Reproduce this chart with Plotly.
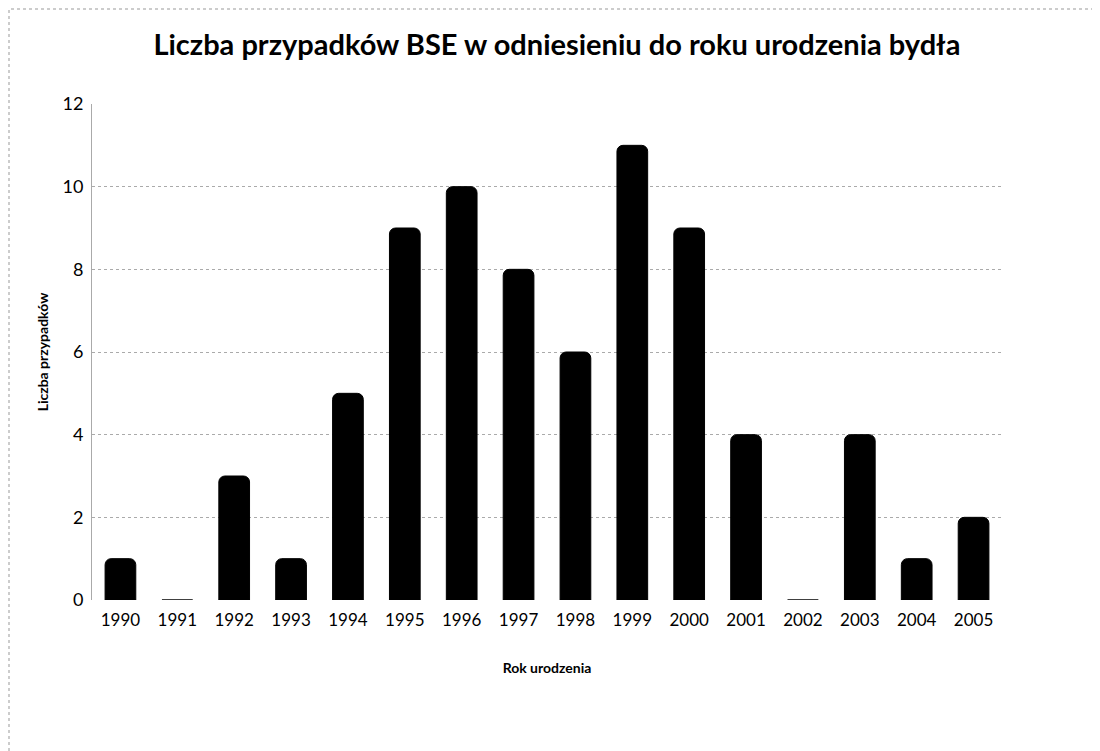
import plotly.graph_objects as go

# dane: liczba przypadków BSE wg roku urodzenia
lata = ["1990", "1991", "1992", "1993", "1994", "1995", "1996", "1997",
        "1998", "1999", "2000", "2001", "2002", "2003", "2004", "2005"]
przypadki = [1, 0, 3, 1, 5, 9, 10, 8, 6, 11, 9, 4, 0, 4, 1, 2]
y_ticks = [0, 2, 4, 6, 8, 10, 12]

W, H = 1100, 751
L, R, T, B = 84, 106, 96, 159

fig = go.Figure()
fig.add_trace(go.Bar(
    x=lata,
    y=przypadki,
    marker=dict(color="black", cornerradius=6, line=dict(color="black", width=1)),
    showlegend=False,
))

# kropkowana ramka całego wykresu
pw = W - L - R
ph = H - T - B
fig.add_shape(
    type="rect", xref="paper", yref="paper",
    x0=(1 - L) / pw, x1=(W - 1 - L) / pw,
    y0=-(H - 1 - (H - B)) / ph,
    y1=1 + (T - 1) / ph,
    line=dict(color="#999999", width=1, dash="dot"),
    layer="below",
)

fig.update_layout(
    width=W, height=H,
    paper_bgcolor="white", plot_bgcolor="white",
    font=dict(family="Lato, Open Sans, sans-serif", color="black"),
    title=dict(
        text="<b>Liczba przypadków BSE w odniesieniu do roku urodzenia bydła</b>",
        x=0.499, xanchor="center", y=0.951, yanchor="middle",
        font=dict(size=29),
    ),
    margin=dict(l=L, r=R, t=T, b=B),
    bargap=0.46,
    xaxis=dict(
        title=dict(text="<b>Rok urodzenia</b>", font=dict(size=14), standoff=34),
        tickfont=dict(size=17), ticklabelstandoff=8,
        showgrid=False, showline=False, ticks="", automargin=False,
    ),
    yaxis=dict(
        title=dict(text="<b>Liczba przypadków</b>", font=dict(size=14), standoff=10),
        range=[0, 12], tickvals=y_ticks, tickfont=dict(size=18), ticklabelstandoff=4,
        showgrid=True, gridcolor="#aaaaaa", griddash="dot", gridwidth=1,
        showline=True, linecolor="#aaaaaa", linewidth=1,
        zeroline=False, ticks="", automargin=False,
    ),
)

fig.write_html("out.html")
